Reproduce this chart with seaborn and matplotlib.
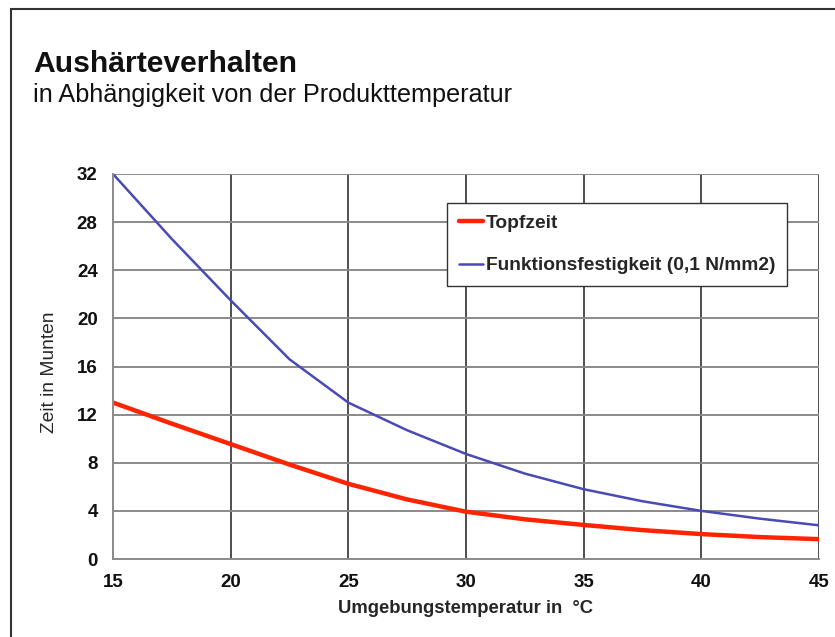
import matplotlib
matplotlib.use("Agg")
import matplotlib.pyplot as plt
import seaborn as sns
import pandas as pd
from matplotlib.patches import Rectangle
from matplotlib.lines import Line2D

temperature = [15, 17.5, 20, 22.5, 25, 27.5, 30, 32.5, 35, 37.5, 40, 42.5, 45]
topfzeit = [13.0, 11.25, 9.55, 7.85, 6.25, 4.95, 3.93, 3.3, 2.83, 2.4, 2.07, 1.82, 1.65]
funktionsfestigkeit = [32.0, 26.6, 21.5, 16.6, 13.0, 10.7, 8.73, 7.1, 5.8, 4.8, 4.0, 3.35, 2.8]
series_names = ["Topfzeit", "Funktionsfestigkeit (0,1 N/mm2)"]
x_ticks = [15, 20, 25, 30, 35, 40, 45]
y_ticks = [0, 4, 8, 12, 16, 20, 24, 28, 32]

df = pd.concat([
    pd.DataFrame({"T": temperature, "Zeit": topfzeit, "Serie": series_names[0]}),
    pd.DataFrame({"T": temperature, "Zeit": funktionsfestigkeit, "Serie": series_names[1]}),
])

sns.set_theme(style="white")
plt.rcParams["font.family"] = ["Liberation Sans", "DejaVu Sans"]

fig = plt.figure(figsize=(8.35, 6.37), dpi=100)
ax = fig.add_axes([113/835, 1-559/637, (819-113)/835, (559-174)/637])

palette = {series_names[0]: "#ff2400", series_names[1]: "#4a4ab4"}
sns.lineplot(data=df, x="T", y="Zeit", hue="Serie", palette=palette, ax=ax,
             legend=False, sort=True)
ax.lines[0].set_linewidth(3.2)
ax.lines[1].set_linewidth(1.8)

ax.set_xlim(15, 45)
ax.set_ylim(0, 32)
ax.set_xticks(x_ticks)
ax.set_yticks(y_ticks)
ax.set_xticklabels([str(v) for v in x_ticks], fontweight="bold", fontsize=13.5)
ax.set_yticklabels([str(v) for v in y_ticks], fontweight="bold", fontsize=13.5)

for xv in x_ticks[1:]:
    ax.axvline(xv, color="#303030", lw=1.2, zorder=0)
for yv in y_ticks[1:]:
    ax.axhline(yv, color="#8a8a8a", lw=1.4, zorder=0)

for side in ["top", "right"]:
    ax.spines[side].set_visible(False)
for side in ["left", "bottom"]:
    ax.spines[side].set_color("#8a8a8a")
    ax.spines[side].set_linewidth(1.4)
ax.tick_params(axis="both", direction="out", length=6, width=1.2, color="#8a8a8a",
               labelcolor="#111111")
ax.tick_params(axis="x", pad=5)
ax.tick_params(axis="y", pad=5)

ax.set_xlabel("Umgebungstemperatur in  °C", fontsize=13.3, fontweight="bold", labelpad=6)
ax.set_ylabel("Zeit in Munten", fontsize=13.8)
ax.yaxis.set_label_coords(-(113-58)/706, (559-372)/385)

handles = [Line2D([], [], color=palette[series_names[0]], lw=3.2),
           Line2D([], [], color=palette[series_names[1]], lw=1.8)]
leg = ax.legend(handles, series_names, loc="upper left",
                bbox_to_anchor=((447-113)/706, (559-203)/385),
                prop={"weight": "bold", "size": 13.8}, frameon=True, fancybox=False,
                handlelength=1.3, handletextpad=0.12, labelspacing=1.3,
                borderpad=0.6, borderaxespad=0)
leg.get_frame().set_edgecolor("#333333")
leg.get_frame().set_linewidth(1.0)
leg.get_frame().set_alpha(1)

fig.text(33/835, 1-72/637, "Aushärteverhalten", fontsize=21.7, fontweight="bold",
         va="baseline", ha="left", color="#111111")
fig.text(33/835, 1-102/637, "in Abhängigkeit von der Produkttemperatur", fontsize=18.2,
         va="baseline", ha="left", color="#111111")

fig.patches.append(Rectangle((11/835, -0.1), 1.2, 1 - 9/637 + 0.1,
                             transform=fig.transFigure, fill=False,
                             edgecolor="#333333", lw=1.5))

fig.savefig("out.png", dpi=100)
